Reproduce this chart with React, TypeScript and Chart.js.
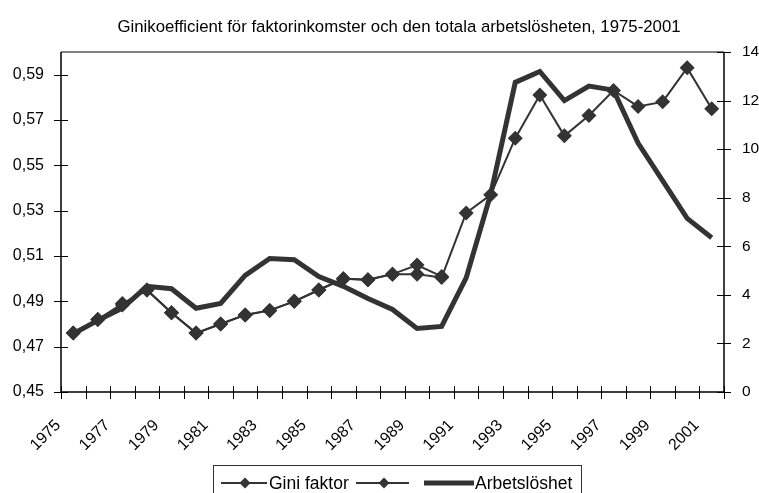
import React, { useEffect, useRef } from 'react';
import { Chart, registerables } from 'chart.js';

Chart.register(...registerables);

const years = [
  '1975', '1976', '1977', '1978', '1979', '1980', '1981', '1982', '1983',
  '1984', '1985', '1986', '1987', '1988', '1989', '1990', '1991', '1992',
  '1993', '1994', '1995', '1996', '1997', '1998', '1999', '2000', '2001',
];

const giniFaktor = [
  0.476, 0.482, 0.489, 0.495, 0.485, 0.476, 0.480, 0.484, 0.486,
  0.490, 0.495, 0.500, 0.4995, 0.502, 0.502, 0.5005, 0.529, 0.537,
  0.562, 0.581, 0.563, 0.572, 0.583, 0.576, 0.578, 0.593, 0.575,
];

const giniFaktor2 = [
  0.476, 0.482, 0.4884, 0.495, 0.485, 0.476, 0.480, 0.484, 0.486,
  0.490, 0.495, 0.500, 0.4995, 0.502, 0.506, 0.501, null, null,
  null, null, null, null, null, null, null, null, null,
];

const arbetsloshet = [
  2.4, 2.95, 3.45, 4.35, 4.25, 3.45, 3.65, 4.8, 5.5,
  5.45, 4.75, 4.35, 3.85, 3.4, 2.62, 2.7, 4.7, 8.15,
  12.75, 13.2, 12.0, 12.6, 12.43, 10.25, 8.7, 7.15, 6.35,
];

const leftTicks = [0.45, 0.47, 0.49, 0.51, 0.53, 0.55, 0.57, 0.59];
const rightTicks = [0, 2, 4, 6, 8, 10, 12, 14];

const titleText = 'Ginikoefficient för faktorinkomster och den totala arbetslösheten, 1975-2001';
const legendLabels = ['Gini faktor', '', 'Arbetslöshet'];

const FONT = "'Liberation Sans', Arial, sans-serif";
const INK = '#333333';

const decorPlugin = {
  id: 'decor',
  afterDraw(chart: any) {
    const ctx = chart.ctx as CanvasRenderingContext2D;
    const { left, right, top, bottom } = chart.chartArea;
    const yl = chart.scales.y;
    const yr = chart.scales.y1;
    ctx.save();

    // title
    ctx.fillStyle = '#000';
    ctx.font = `16.8px ${FONT}`;
    ctx.textAlign = 'center';
    ctx.textBaseline = 'middle';
    ctx.fillText(titleText, 399, 27);

    // top border (gray)
    ctx.strokeStyle = '#808080';
    ctx.lineWidth = 2;
    ctx.beginPath();
    ctx.moveTo(left, top);
    ctx.lineTo(right, top);
    ctx.stroke();

    // axes
    ctx.strokeStyle = '#000';
    ctx.lineWidth = 1.5;
    ctx.beginPath();
    ctx.moveTo(left, top);
    ctx.lineTo(left, bottom);
    ctx.lineTo(right, bottom);
    ctx.moveTo(right, top);
    ctx.lineTo(right, bottom);
    ctx.stroke();

    // tick marks
    ctx.lineWidth = 1;
    ctx.beginPath();
    leftTicks.forEach((v) => {
      const y = Math.round(yl.getPixelForValue(v)) + 0.5;
      ctx.moveTo(left - 7, y);
      ctx.lineTo(left + 7, y);
    });
    rightTicks.forEach((v) => {
      const y = Math.round(yr.getPixelForValue(v)) + 0.5;
      ctx.moveTo(right - 7, y);
      ctx.lineTo(right + 7, y);
    });
    const n = years.length;
    const w = (right - left) / n;
    for (let i = 0; i <= n; i++) {
      const x = Math.round(left + i * w) + 0.5;
      ctx.moveTo(x, bottom - 6);
      ctx.lineTo(x, bottom + 7);
    }
    ctx.stroke();

    // legend
    const ly = 483;
    ctx.strokeStyle = INK;
    ctx.lineWidth = 1;
    ctx.strokeRect(213.5, 465.5, 368, 40);

    const diamond = (cx: number, cy: number, r: number) => {
      ctx.beginPath();
      ctx.moveTo(cx, cy - r);
      ctx.lineTo(cx + r, cy);
      ctx.lineTo(cx, cy + r);
      ctx.lineTo(cx - r, cy);
      ctx.closePath();
      ctx.fillStyle = INK;
      ctx.fill();
    };

    ctx.lineWidth = 2;
    ctx.beginPath();
    ctx.moveTo(221, ly);
    ctx.lineTo(267, ly);
    ctx.stroke();
    diamond(245, ly, 5.5);

    ctx.beginPath();
    ctx.moveTo(356, ly);
    ctx.lineTo(409, ly);
    ctx.stroke();
    diamond(384, ly, 5.5);

    ctx.lineWidth = 5;
    ctx.beginPath();
    ctx.moveTo(424, ly);
    ctx.lineTo(474, ly);
    ctx.stroke();

    ctx.fillStyle = '#000';
    ctx.font = `17.5px ${FONT}`;
    ctx.textAlign = 'left';
    ctx.textBaseline = 'middle';
    ctx.fillText(legendLabels[0], 269, ly + 1);
    ctx.fillText(legendLabels[2], 475, ly + 1);

    ctx.restore();
  },
};

export default function App() {
  const ref = useRef<HTMLCanvasElement | null>(null);

  useEffect(() => {
    if (!ref.current) return;
    const chart = new Chart(ref.current, {
      type: 'line',
      data: {
        labels: years,
        datasets: [
          {
            label: legendLabels[0],
            data: giniFaktor,
            yAxisID: 'y',
            borderColor: INK,
            backgroundColor: INK,
            borderWidth: 2,
            pointStyle: 'rectRot',
            pointRadius: 7.5,
            pointBorderWidth: 0,
            pointBackgroundColor: INK,
            tension: 0,
          },
          {
            label: legendLabels[1],
            data: giniFaktor2,
            yAxisID: 'y',
            borderColor: INK,
            backgroundColor: INK,
            borderWidth: 2,
            pointStyle: 'rectRot',
            pointRadius: 7.5,
            pointBorderWidth: 0,
            pointBackgroundColor: INK,
            tension: 0,
            spanGaps: false,
          },
          {
            label: legendLabels[2],
            data: arbetsloshet,
            yAxisID: 'y1',
            borderColor: INK,
            backgroundColor: INK,
            borderWidth: 5,
            pointRadius: 0,
            tension: 0,
          },
        ],
      },
      options: {
        animation: false,
        responsive: false,
        maintainAspectRatio: false,
        layout: { padding: { top: 52, left: 0, right: 0, bottom: 0 } },
        plugins: {
          legend: { display: false },
          title: { display: false },
          tooltip: { enabled: false },
        },
        scales: {
          x: {
            type: 'category',
            offset: true,
            grid: { display: false, drawTicks: false, tickLength: 0 },
            border: { display: false },
            ticks: {
              autoSkip: false,
              maxRotation: 45,
              minRotation: 45,
              padding: 24,
              labelOffset: -15,
              color: '#000',
              font: { family: FONT, size: 16 },
              callback: (_v: any, i: number) => (i % 2 === 0 ? years[i] : ''),
            },
            afterFit: (s: any) => {
              s.height = 101;
            },
          },
          y: {
            position: 'left',
            min: 0.45,
            max: 0.6,
            grid: { display: false, drawTicks: false, tickLength: 0 },
            border: { display: false },
            afterBuildTicks: (s: any) => {
              s.ticks = leftTicks.map((v) => ({ value: v }));
            },
            ticks: {
              padding: 17,
              color: '#000',
              font: { family: FONT, size: 16 },
              callback: (v: any) => Number(v).toFixed(2).replace('.', ','),
            },
            afterFit: (s: any) => {
              s.width = 61;
            },
          },
          y1: {
            position: 'right',
            min: 0,
            max: 14,
            grid: { display: false, drawTicks: false, tickLength: 0 },
            border: { display: false },
            afterBuildTicks: (s: any) => {
              s.ticks = rightTicks.map((v) => ({ value: v }));
            },
            ticks: {
              padding: 18,
              color: '#000',
              font: { family: FONT, size: 15.5 },
              callback: (v: any) => String(v),
            },
            afterFit: (s: any) => {
              s.width = 35;
            },
          },
        },
      },
      plugins: [decorPlugin],
    });
    return () => chart.destroy();
  }, []);

  return (
    <div style={{ position: 'fixed', left: 0, top: 0, width: 759, height: 493, background: '#fff' }}>
      <canvas ref={ref} width={759} height={493} style={{ display: 'block' }} />
    </div>
  );
}
